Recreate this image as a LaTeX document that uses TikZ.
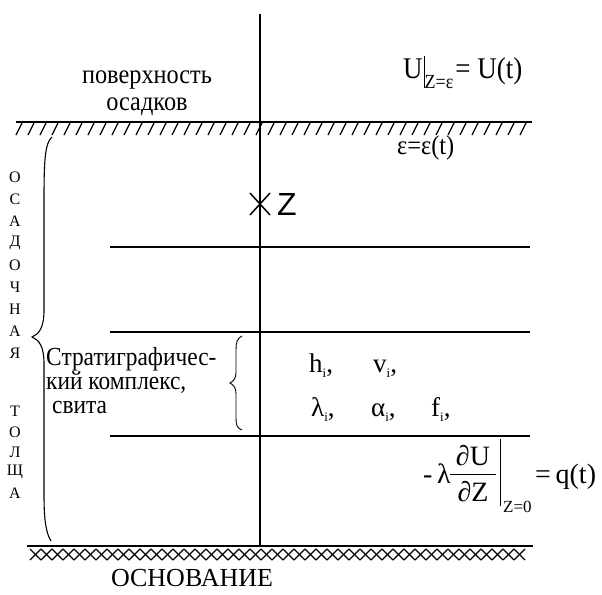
\documentclass[tikz,border=0pt]{standalone}
\usepackage{fontspec}
\usepackage{graphicx}
\usetikzlibrary{calc}
\setmainfont{Liberation Serif}
\newfontfamily\zsans{Liberation Sans}
\newcommand\sbi{\raisebox{-5pt}{\fontsize{13}{13}\selectfont i}}
\newcommand\narrowtxt[1]{\scalebox{0.9}[1]{#1}}
\begin{document}
\begin{tikzpicture}[x=1pt,y=-1pt,
  mainline/.style={line width=1.7pt},
  hatch/.style={line width=1.3pt},
  bracepath/.style={line width=1.1pt},
  txt/.style={inner sep=0pt, font=\fontsize{27}{27}\selectfont},
  vlet/.style={inner sep=0pt, font=\fontsize{16}{16}\selectfont},
  param/.style={inner sep=0pt, anchor=base west, font=\fontsize{27}{27}\selectfont}]
\useasboundingbox (0,0) rectangle (602,594);
% axis and main lines
\coordinate (axT) at (260,14);
\coordinate (axB) at (260,546);
\coordinate (sL) at (16,122); \coordinate (sR) at (532,122);
\coordinate (bL) at (27,546); \coordinate (bR) at (533,546);
\draw[mainline] (axT) -- (axB);
\draw[mainline] (sL) -- (sR);
\draw[mainline] (bL) -- (bR);
% surface hatches
\foreach \x in {22,34,...,532} \draw[hatch] (\x,123) -- (\x-6,135);
% base cross-hatch
\foreach \x in {30,41,...,520} {\draw[hatch] (\x,549) -- (\x+11,560); \draw[hatch] (\x+11,549) -- (\x,560);}
% layer lines
\coordinate (l1L) at (110,247); \coordinate (l1R) at (530,247);
\coordinate (l2L) at (110,332); \coordinate (l2R) at (530,332);
\coordinate (l3L) at (110,436); \coordinate (l3R) at (530,436);
\draw[mainline] (l1L) -- (l1R);
\draw[mainline] (l2L) -- (l2R);
\draw[mainline] (l3L) -- (l3R);
% Z marker
\coordinate (zc) at (260,204);
\draw[line width=1.5pt] ($(zc)+(-10,-11)$) -- ($(zc)+(10,11)$);
\draw[line width=1.5pt] ($(zc)+(-10,11)$) -- ($(zc)+(10,-11)$);
\node[inner sep=0pt, anchor=west, font=\zsans\fontsize{32}{32}\selectfont] (zlab) at (277,204) {Z};
% surface label
\node[txt, anchor=base] (surf1) at (147,84) {\narrowtxt{поверхность}};
\node[txt, anchor=base] (surf2) at (147,110) {\narrowtxt{осадков}};
% top condition
\node[inner sep=0pt, anchor=base west] (topeq) at (403,78) {\fontsize{30}{30}\selectfont\narrowtxt{U}\hspace{1pt}\rule[-10pt]{1pt}{32pt}\raisebox{-10pt}{\fontsize{20}{20}\selectfont\narrowtxt{Z=ε}}\hspace{2pt}\narrowtxt{= U(t)}};
\node[inner sep=0pt, anchor=base west, font=\fontsize{27}{27}\selectfont] (epst) at (397,154) {\narrowtxt{ε=ε(t)}};
% vertical letters
\foreach \l/\y in {О/177,С/199,А/221,Д/243,О/265,Ч/287,Н/309,А/331,Я/353,Т/411,О/432,Л/452,Щ/472,А/493}
  \node[vlet] at (15,\y) {\l};
% big brace
\draw[bracepath] (52,137) .. controls (45,143) and (44,160) .. (44,200) -- (44,310)
   .. controls (44,328) and (39,334) .. (32,337) .. controls (39,340) and (44,346) .. (44,364)
   -- (44,495) .. controls (44,520) and (46,533) .. (51,541);
% small brace
\draw[line width=0.9pt] (242,336) .. controls (237,338) and (236,343) .. (236,350) -- (236,372)
   .. controls (236,378) and (234,381) .. (230,383) .. controls (234,385) and (236,388) .. (236,394)
   -- (236,418) .. controls (236,425) and (237,428) .. (242,430);
% stratigraphic complex
\node[inner sep=0pt, anchor=north west, align=left, font=\fontsize{26}{24}\selectfont] (strat) at (46,347)
  {\narrowtxt{Стратиграфичес-}\\\narrowtxt{кий комплекс,}\\\hspace{6pt}\narrowtxt{свита}};
% parameters
\node[param] (h) at (309,372) {h\sbi,};
\node[param] (v) at (373,372) {v\sbi,};
\node[param] (lam) at (311,416) {λ\sbi,};
\node[param] (alp) at (371,416) {α\sbi,};
\node[param] (f) at (431,416) {f\sbi,};
% bottom condition
\node[inner sep=0pt, anchor=base west, font=\fontsize{28}{28}\selectfont] (mlam) at (423,483) {-\,λ};
\node[inner sep=0pt, anchor=base, font=\fontsize{28}{28}\selectfont] (dU) at (473,465) {∂U};
\node[inner sep=0pt, anchor=base, font=\fontsize{28}{28}\selectfont] (dZ) at (473,501) {∂Z};
\coordinate (fbL) at (450,474); \coordinate (fbR) at (496,474);
\draw[line width=0.9pt] (fbL) -- (fbR);
\coordinate (vbT) at (500,439); \coordinate (vbB) at (500,506);
\draw[line width=1pt] (vbT) -- (vbB);
\node[inner sep=0pt, anchor=base west, font=\fontsize{17}{17}\selectfont] (z0) at (503,512) {Z=0};
\node[inner sep=0pt, anchor=base west, font=\fontsize{28}{28}\selectfont] (qt) at (535,483) {=\,q(t)};
% base label
\node[inner sep=0pt, anchor=base, font=\fontsize{26}{26}\selectfont] (base) at (192,586) {ОСНОВАНИЕ};
\end{tikzpicture}
\end{document}
